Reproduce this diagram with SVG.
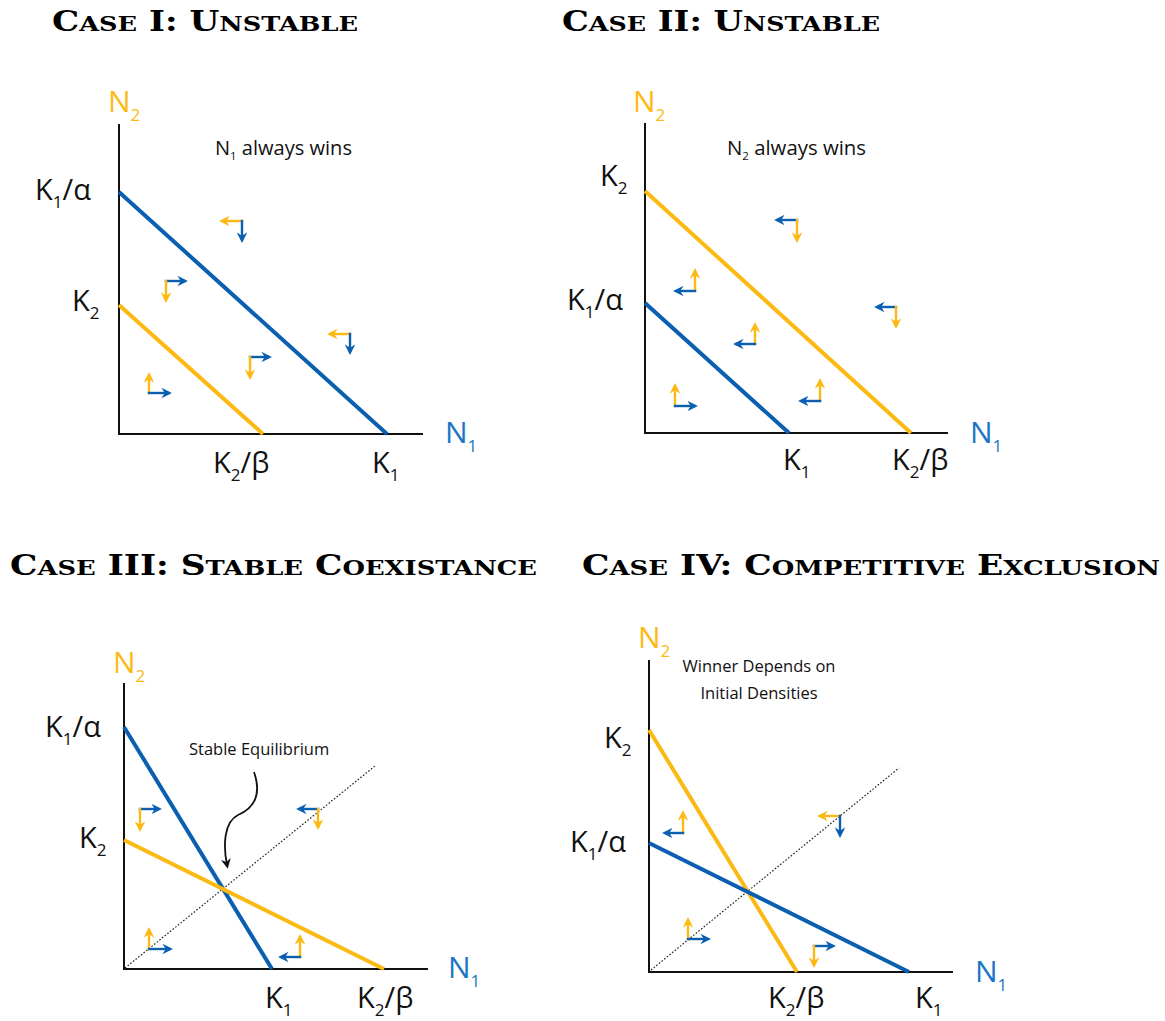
<svg xmlns="http://www.w3.org/2000/svg" width="1165" height="1021" viewBox="0 0 1165 1021">
<style>
.title{font-family:"DejaVu Serif","Liberation Serif",serif;font-weight:bold;font-size:28px;fill:#000}
.sc{font-size:21px}
.lbl{font-family:"Open Sans","Noto Sans",sans-serif;font-size:29px;fill:#111}
.ax{font-family:"Open Sans","Noto Sans",sans-serif;font-size:30px}
.note{font-family:"Open Sans","Noto Sans",sans-serif;font-size:16.5px;fill:#111}
.note2{font-family:"Open Sans","Noto Sans",sans-serif;font-size:19.5px;fill:#111}
.axis{stroke:#111;stroke-width:2;fill:none}
.blue{stroke:#0b5fb0;stroke-width:4;fill:none}
.yel{stroke:#fdb913;stroke-width:4;fill:none}
.ab{stroke:#0b5fb0;stroke-width:2.4;fill:none;stroke-linecap:square;marker-end:url(#hb)}
.ay{stroke:#fdb913;stroke-width:2.4;fill:none;stroke-linecap:square;marker-end:url(#hy)}
.dot{stroke:#222;stroke-width:1.2;stroke-dasharray:1.6 1.8;fill:none}
.nb{fill:#1b74c4}
.ny{fill:#fdb913}
</style>
<defs>
<marker id="hb" viewBox="0 0 8 8" markerWidth="10.5" markerHeight="10.5" refX="5" refY="4" orient="auto" markerUnits="userSpaceOnUse"><path d="M0,0 L8,4 L0,8 L2.5,4 z" fill="#0b5fb0"/></marker>
<marker id="hy" viewBox="0 0 8 8" markerWidth="10.5" markerHeight="10.5" refX="5" refY="4" orient="auto" markerUnits="userSpaceOnUse"><path d="M0,0 L8,4 L0,8 L2.5,4 z" fill="#fdb913"/></marker>
<marker id="hk" viewBox="0 0 8 8" markerWidth="10" markerHeight="10" refX="5" refY="4" orient="auto" markerUnits="userSpaceOnUse"><path d="M0,0 L8,4 L0,8 L2.5,4 z" fill="#111"/></marker>
</defs>
<rect width="1165" height="1021" fill="#fff"/>

<!-- Titles -->
<g id="titles">
<text class="title" x="52" y="31" textLength="306" lengthAdjust="spacingAndGlyphs">C<tspan class="sc">ASE</tspan> I: U<tspan class="sc">NSTABLE</tspan></text>
<text class="title" x="562" y="31" textLength="318" lengthAdjust="spacingAndGlyphs">C<tspan class="sc">ASE</tspan> II: U<tspan class="sc">NSTABLE</tspan></text>
<text class="title" x="10" y="575" textLength="527" lengthAdjust="spacingAndGlyphs">C<tspan class="sc">ASE</tspan> III: S<tspan class="sc">TABLE</tspan> C<tspan class="sc">OEXISTANCE</tspan></text>
<text class="title" x="582" y="575" textLength="578" lengthAdjust="spacingAndGlyphs">C<tspan class="sc">ASE</tspan> IV: C<tspan class="sc">OMPETITIVE</tspan> E<tspan class="sc">XCLUSION</tspan></text>
</g>

<!-- Panel I -->
<g id="panel1">
<path class="axis" d="M119,124 V435 M118,434 H423"/>
<line class="blue" x1="119" y1="192" x2="387" y2="434"/>
<line class="yel" x1="119" y1="305" x2="263" y2="434"/>
<text class="ax ny" x="108" y="112">N<tspan font-size="17" dy="9">2</tspan></text>
<text class="ax nb" x="445" y="443">N<tspan font-size="17" dy="9">1</tspan></text>
<text class="lbl" x="35" y="200">K<tspan font-size="17" dy="8">1</tspan><tspan dy="-8">/α</tspan></text>
<text class="lbl" x="72" y="311">K<tspan font-size="17" dy="8">2</tspan></text>
<text class="lbl" x="213" y="473">K<tspan font-size="17" dy="8">2</tspan><tspan dy="-8">/β</tspan></text>
<text class="lbl" x="372" y="473">K<tspan font-size="17" dy="8">1</tspan></text>
<text class="note2" x="215" y="155" textLength="137" lengthAdjust="spacingAndGlyphs">N<tspan font-size="11" dy="5">1</tspan><tspan dy="-5"> always wins</tspan></text>
</g>

<!-- Panel II -->
<g id="panel2">
<path class="axis" d="M645,123 V434 M644,433 H948"/>
<line class="yel" x1="645" y1="191" x2="911" y2="433"/>
<line class="blue" x1="645" y1="303" x2="789" y2="433"/>
<text class="ax ny" x="633" y="112">N<tspan font-size="17" dy="9">2</tspan></text>
<text class="ax nb" x="970" y="443">N<tspan font-size="17" dy="9">1</tspan></text>
<text class="lbl" x="600" y="186">K<tspan font-size="17" dy="8">2</tspan></text>
<text class="lbl" x="567" y="310">K<tspan font-size="17" dy="8">1</tspan><tspan dy="-8">/α</tspan></text>
<text class="lbl" x="783" y="470">K<tspan font-size="17" dy="8">1</tspan></text>
<text class="lbl" x="892" y="470">K<tspan font-size="17" dy="8">2</tspan><tspan dy="-8">/β</tspan></text>
<text class="note2" x="727" y="155" textLength="139" lengthAdjust="spacingAndGlyphs">N<tspan font-size="11" dy="5">2</tspan><tspan dy="-5"> always wins</tspan></text>
</g>

<!-- Panel III -->
<g id="panel3">
<path class="axis" d="M124,683 V970 M123,969 H428"/>
<line class="dot" x1="125" y1="968" x2="375" y2="766"/>
<line class="blue" x1="124" y1="727" x2="272" y2="969"/>
<line class="yel" x1="124" y1="840" x2="384" y2="969"/>
<text class="ax ny" x="113" y="673">N<tspan font-size="17" dy="9">2</tspan></text>
<text class="ax nb" x="448" y="978">N<tspan font-size="17" dy="9">1</tspan></text>
<text class="lbl" x="45" y="737">K<tspan font-size="17" dy="8">1</tspan><tspan dy="-8">/α</tspan></text>
<text class="lbl" x="79" y="848">K<tspan font-size="17" dy="8">2</tspan></text>
<text class="lbl" x="265" y="1008">K<tspan font-size="17" dy="8">1</tspan></text>
<text class="lbl" x="357" y="1008">K<tspan font-size="17" dy="8">2</tspan><tspan dy="-8">/β</tspan></text>
<text class="note" x="189" y="755">Stable Equilibrium</text>
</g>

<!-- Panel IV -->
<g id="panel4">
<path class="axis" d="M649,660 V973 M648,972 H953"/>
<line class="dot" x1="651" y1="970" x2="899" y2="768"/>
<line class="yel" x1="649" y1="730" x2="797" y2="972"/>
<line class="blue" x1="649" y1="843" x2="909" y2="972"/>
<text class="ax ny" x="638" y="648">N<tspan font-size="17" dy="9">2</tspan></text>
<text class="ax nb" x="975" y="982">N<tspan font-size="17" dy="9">1</tspan></text>
<text class="lbl" x="604" y="748">K<tspan font-size="17" dy="8">2</tspan></text>
<text class="lbl" x="570" y="852">K<tspan font-size="17" dy="8">1</tspan><tspan dy="-8">/α</tspan></text>
<text class="lbl" x="768" y="1008">K<tspan font-size="17" dy="8">2</tspan><tspan dy="-8">/β</tspan></text>
<text class="lbl" x="915" y="1008">K<tspan font-size="17" dy="8">1</tspan></text>
<text class="note" x="759" y="672" text-anchor="middle">Winner Depends on</text>
<text class="note" x="759" y="699" text-anchor="middle">Initial Densities</text>
</g>

<!-- Connectors: phase arrows and pointer -->
<g id="connectors">
<!-- Panel I -->
<path class="ay" d="M242,221 H223"/><path class="ab" d="M242,221 V239"/>
<path class="ab" d="M166,281 H184"/><path class="ay" d="M166,281 V299"/>
<path class="ay" d="M350,334 H331"/><path class="ab" d="M350,334 V351"/>
<path class="ab" d="M250,357 H268"/><path class="ay" d="M250,357 V376"/>
<path class="ay" d="M149,393 V376"/><path class="ab" d="M149,393 H168"/>
<!-- Panel II -->
<path class="ab" d="M797,220 H778"/><path class="ay" d="M797,220 V239"/>
<path class="ay" d="M695,291 V272"/><path class="ab" d="M695,291 H677"/>
<path class="ab" d="M896,307 H878"/><path class="ay" d="M896,307 V325"/>
<path class="ay" d="M755,344 V326"/><path class="ab" d="M755,344 H737"/>
<path class="ay" d="M675,406 V387"/><path class="ab" d="M675,406 H694"/>
<path class="ay" d="M820,401 V382"/><path class="ab" d="M820,401 H802"/>
<!-- Panel III -->
<path class="ab" d="M140,809 H158"/><path class="ay" d="M140,809 V828"/>
<path class="ab" d="M318,809 H300"/><path class="ay" d="M318,809 V826"/>
<path class="ay" d="M149,949 V931"/><path class="ab" d="M149,949 H169"/>
<path class="ay" d="M300,957 V938"/><path class="ab" d="M300,957 H282"/>
<!-- Panel IV -->
<path class="ay" d="M683,833 V814"/><path class="ab" d="M683,833 H666"/>
<path class="ay" d="M840,816 H821"/><path class="ab" d="M840,816 V834"/>
<path class="ay" d="M688,939 V921"/><path class="ab" d="M688,939 H707"/>
<path class="ab" d="M814,946 H832"/><path class="ay" d="M814,946 V964"/>
<!-- Pointer to stable equilibrium -->
<path d="M254,772 C262,795 254,808 238,815 C224,822 223,845 227,865" stroke="#111" stroke-width="1.8" fill="none" marker-end="url(#hk)"/>
</g>
</svg>
